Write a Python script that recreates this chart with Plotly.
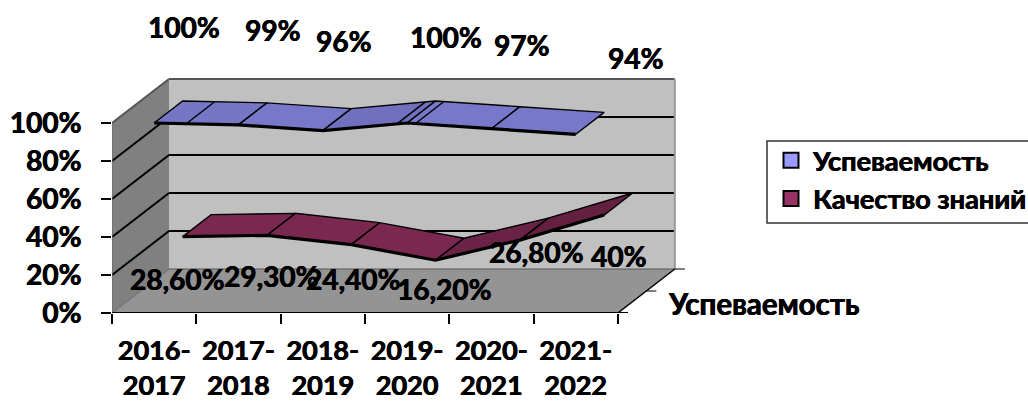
import plotly.graph_objects as go

categories = ["2016-<br>2017", "2017-<br>2018", "2018-<br>2019", "2019-<br>2020", "2020-<br>2021", "2021-<br>2022"]
uspevaemost = [100, 99, 96, 100, 97, 94]
kachestvo = [28.6, 29.3, 24.4, 16.2, 26.8, 40]
uspevaemost_labels = ["100%", "99%", "96%", "100%", "97%", "94%"]
kachestvo_labels = ["28,60%", "29,30%", "24,40%", "16,20%", "26,80%", "40%"]
y_ticks = [0, 20, 40, 60, 80, 100]
y_tick_labels = ["0%", "20%", "40%", "60%", "80%", "100%"]

FONT = "Lato"
FS = 28
SHADOW = "0.5px 0 0 black, -0.3px 0 0 black"
PX_X = 84.3
PX_Y = 1.9
DX = 57 / PX_X
DY = 44 / PX_Y
n = len(categories)
xs = list(range(1, n + 1))
fx = 0.5 + n
WALL = "#C0C0C0"; SIDE = "#808080"; FLOOR = "#949494"
PLOT_W = 916
PLOT_H = 313


def tfont(size):
    return dict(family=FONT, size=size, color="black", weight="bold", shadow=SHADOW)


def proj(x, y, z):
    return x + z * DX, y + z * DY


def poly(points, fill):
    path = "M " + " L ".join(f"{a},{b}" for a, b in points) + " Z"
    return dict(type="path", path=path, fillcolor=fill, line=dict(width=0), layer="below")


def seg(a, b, color="black", w=2):
    return dict(type="line", x0=a[0], y0=a[1], x1=b[0], y1=b[1], line=dict(color=color, width=w), layer="below")


shapes = [
    poly([proj(0.5, 0, 1), proj(fx, 0, 1), proj(fx, 100, 1), proj(0.5, 100, 1)], WALL),
    poly([proj(0.5, 0, 0), proj(0.5, 0, 1), proj(0.5, 100, 1), proj(0.5, 100, 0)], SIDE),
]
for t in y_ticks[1:-1]:
    shapes.append(seg(proj(0.5, t, 0), proj(0.5, t, 1)))
    shapes.append(seg(proj(0.5, t, 1), proj(fx, t, 1)))
shapes += [
    seg(proj(0.5, 100, 0), proj(0.5, 100, 1), "#555555", 2),
    seg(proj(0.5, 100, 1), proj(fx, 100, 1), "#555555", 2),
    seg(proj(fx, 100, 1), proj(fx, 0, 1), "#999999", 2),
    seg(proj(0.5, 100, 0), proj(0.5, 0, 0), "#666666", 1),
    seg(proj(fx, 0, 0.5), proj(fx + 0.12, 0, 0.5), "black", 1),
    seg(proj(fx, 0, 1), proj(fx + 0.12, 0, 1), "black", 1),
    dict(type="rect", xref="paper", yref="paper", x0=(767 - 112) / PLOT_W, x1=(1032 - 112) / PLOT_W,
         y0=(PLOT_H - 223) / PLOT_H, y1=(PLOT_H - 141) / PLOT_H,
         fillcolor="white", line=dict(color="#333333", width=1.5), layer="below"),
]

fig = go.Figure()

floor = [proj(0.5, 0, 0), proj(fx, 0, 0), proj(fx, 0, 1), proj(0.5, 0, 1), proj(0.5, 0, 0)]
fig.add_trace(go.Scatter(x=[p[0] for p in floor], y=[p[1] for p in floor], mode="lines", fill="toself",
                         fillcolor=FLOOR, line=dict(color="rgba(0,0,0,0)", width=0),
                         showlegend=False, hoverinfo="skip", cliponaxis=False))
for a, b, c, w in [
    (proj(0.5, 0, 1), proj(fx, 0, 1), "#555555", 1),
    (proj(0.5, 0, 0), proj(0.5, 0, 1), "#666666", 1),
    (proj(fx, 0, 0), proj(fx, 0, 1), "black", 1.5),
    (proj(0.5, 0, 0), proj(fx + 0.12, 0, 0), "black", 2),
]:
    fig.add_trace(go.Scatter(x=[a[0], b[0]], y=[a[1], b[1]], mode="lines", line=dict(color=c, width=w),
                             showlegend=False, hoverinfo="skip", cliponaxis=False))


def ribbon(values, z0, z1, colors, extra):
    for i in range(n - 1):
        pts = [proj(xs[i], values[i], z0), proj(xs[i + 1], values[i + 1], z0),
               proj(xs[i + 1], values[i + 1], z1), proj(xs[i], values[i], z1)]
        fig.add_trace(go.Scatter(
            x=[p[0] for p in pts] + [pts[0][0]], y=[p[1] for p in pts] + [pts[0][1]],
            mode="lines", fill="toself", fillcolor=colors[i],
            line=dict(color="black", width=1.4), showlegend=False, hoverinfo="skip"))
    for e in extra:
        i = int(e) - 1
        v = values[i] + (values[i + 1] - values[i]) * (e - xs[i])
        a, b = proj(e, v, z0), proj(e, v, z1)
        fig.add_trace(go.Scatter(x=[a[0], b[0]], y=[a[1], b[1]], mode="lines",
                                 line=dict(color="black", width=1.4), showlegend=False, hoverinfo="skip"))
    front = [proj(x, v, z0) for x, v in zip(xs, values)]
    fig.add_trace(go.Scatter(x=[p[0] for p in front], y=[p[1] for p in front], mode="lines",
                             line=dict(color="black", width=3.2), showlegend=False, hoverinfo="skip"))


ribbon(kachestvo, 0.5, 1, ["#7A2850", "#7A2850", "#7A2850", "#6A2246", "#64203F"], [])
ribbon(uspevaemost, 0, 0.5, ["#7676C6", "#7878CA", "#7070BE", "#7878CA", "#7878CA"], [1.38, 3.88, 4.1])

fig.add_trace(go.Scatter(x=[None], y=[None], mode="markers", name="Успеваемость",
                         marker=dict(symbol="square", size=15, color="#9999FF", line=dict(color="black", width=2))))
fig.add_trace(go.Scatter(x=[None], y=[None], mode="markers", name="Качество знаний",
                         marker=dict(symbol="square", size=15, color="#993366", line=dict(color="black", width=2))))

u_off = [(30, -96), (34, -95), (21, -90), (39, -86), (30, -84), (60, -76)]
k_off = [(23, 20), (33, 19), (30, 12), (37, 7), (45, -10), (43, 19)]
annotations = []
for x, v, t, o in zip(xs, uspevaemost, uspevaemost_labels, u_off):
    annotations.append(dict(x=x, y=v, text=t, xshift=o[0], yshift=-o[1], showarrow=False, font=tfont(FS)))
for x, v, t, o in zip(xs, kachestvo, kachestvo_labels, k_off):
    annotations.append(dict(x=x, y=v, text=t, xshift=o[0], yshift=-o[1], showarrow=False, font=tfont(FS)))
annotations.append(dict(x=proj(fx, 0, 0.5)[0], y=0, text="Успеваемость", xanchor="left", xshift=20, yshift=10,
                        showarrow=False, font=tfont(29.5)))

fig.update_layout(
    width=1028, height=403, margin=dict(l=112, r=0, t=0, b=90, autoexpand=False),
    paper_bgcolor="white", plot_bgcolor="white", shapes=shapes, annotations=annotations,
    font=dict(family=FONT, color="black"),
    showlegend=True,
    legend=dict(x=(769 - 112) / PLOT_W, y=(PLOT_H - 136) / PLOT_H, xanchor="left", yanchor="top",
                bgcolor="rgba(0,0,0,0)", borderwidth=0,
                font=tfont(27.2), itemwidth=34),
    xaxis=dict(range=[0.5, 0.5 + PLOT_W / PX_X], tickmode="array", tickvals=xs, ticktext=categories, ticks="",
               showgrid=False, zeroline=False, showline=False, ticklabelstandoff=19,
               tickfont=tfont(27),
               minor=dict(tickmode="array", tickvals=[0.5 + i for i in range(n + 1)], ticks="outside",
                          ticklen=10, tickcolor="black", tickwidth=1.5, showgrid=False)),
    yaxis=dict(range=[0, PLOT_H / PX_Y], tickmode="array", tickvals=y_ticks, ticktext=y_tick_labels,
               ticks="outside", ticklen=10, tickcolor="black", tickwidth=1.5,
               showgrid=False, zeroline=False, showline=False, ticklabelstandoff=14,
               tickfont=tfont(FS)),
)

fig.write_html("out.html", config={"displayModeBar": False}, post_script="document.body.style.margin='0';")
